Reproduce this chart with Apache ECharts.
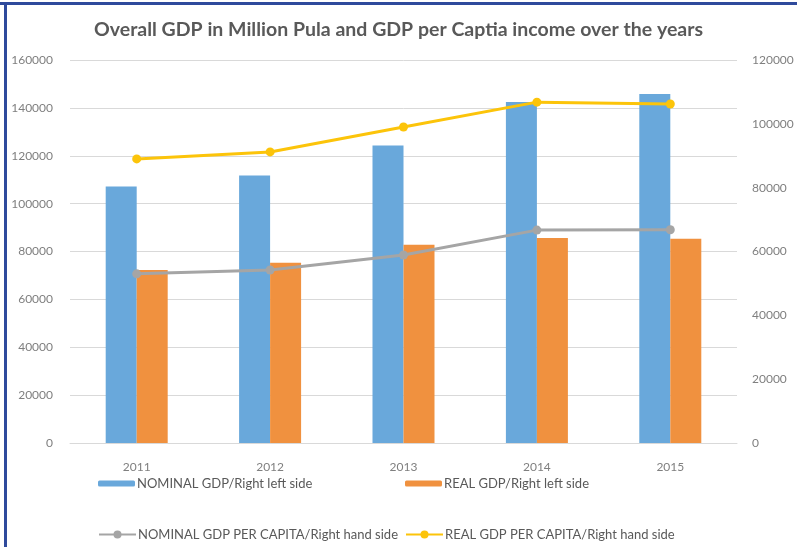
<!DOCTYPE html>
<html>
<head>
<meta charset="utf-8">
<script src="https://cdn.jsdelivr.net/npm/echarts@6/dist/echarts.min.js"></script>
<style>
  html, body { margin: 0; padding: 0; background: #fff; }
  #chart { width: 797px; height: 547px; }
</style>
</head>
<body>
<div id="chart"></div>
<script>
// data
var years = ["2011", "2012", "2013", "2014", "2015"];
var nominalGdp = [107200, 111800, 124300, 142500, 145800];
var realGdp = [72300, 75300, 82800, 85600, 85300];
var nominalPerCapita = [53000, 54200, 58900, 66700, 66800];
var realPerCapita = [89000, 91200, 99000, 106800, 106200];

var labelColor = "#7f7f7f";
var fontFam = "Lato, 'Open Sans', sans-serif";

function plainNumber(v) {
  return String(v);
}

function oneLegend(name, left, top, h) {
  return {
    data: [name],
    left: left,
    top: top,
    padding: 0,
    itemWidth: 37,
    itemHeight: h,
    textStyle: {
      fontFamily: fontFam,
      fontSize: 13,
      color: "#595959",
      padding: [0, 0, 0, -3],
    },
  };
}

var myChart = echarts.init(document.getElementById("chart"), null, { renderer: "canvas" });

var option = {
  backgroundColor: "#fff",
  animation: false,
  title: {
    text: "Overall GDP in Million Pula and GDP per Captia income over the years",
    left: "center",
    top: 15,
    textStyle: {
      fontFamily: fontFam,
      fontSize: 19.5,
      fontWeight: "bold",
      color: "#595959",
    },
  },
  graphic: [
    {
      type: "rect",
      shape: { x: 0, y: 2, width: 797, height: 3 },
      style: { fill: "#2f4a9c" },
    },
    {
      type: "rect",
      shape: { x: 4, y: 2, width: 3, height: 545 },
      style: { fill: "#2f4a9c" },
    },
  ],
  legend: [
    oneLegend("NOMINAL GDP/Right left side", 98, 477, 6),
    oneLegend("REAL GDP/Right left side", 405, 477, 6),
    oneLegend("NOMINAL GDP PER CAPITA/Right hand side", 98, 528, 10),
    oneLegend("REAL GDP PER CAPITA/Right hand side", 405, 528, 10),
  ],
  grid: {
    left: 70,
    right: 60,
    top: 60,
    bottom: 104,
    containLabel: false,
  },
  xAxis: [
    {
      type: "category",
      data: years,
      axisTick: { show: false },
      axisLine: { lineStyle: { color: "#d9d9d9" } },
      axisLabel: { fontFamily: fontFam, fontSize: 12, color: labelColor, margin: 18 },
    },
  ],
  yAxis: [
    {
      type: "value",
      min: 0,
      max: 160000,
      interval: 20000,
      axisLine: { show: false },
      axisTick: { show: false },
      splitLine: { lineStyle: { color: "#d9d9d9" } },
      axisLabel: {
        fontFamily: fontFam,
        fontSize: 12,
        color: labelColor,
        margin: 17,
        formatter: plainNumber,
      },
    },
    {
      type: "value",
      min: 0,
      max: 120000,
      interval: 20000,
      position: "right",
      axisLine: { show: false },
      axisTick: { show: false },
      splitLine: { show: false },
      axisLabel: {
        fontFamily: fontFam,
        fontSize: 12,
        color: labelColor,
        margin: 15,
        formatter: plainNumber,
      },
    },
  ],
  series: [
    {
      name: "NOMINAL GDP/Right left side",
      type: "bar",
      color: "#69a8db",
      barWidth: 31,
      barGap: "0%",
      data: nominalGdp,
    },
    {
      name: "REAL GDP/Right left side",
      type: "bar",
      color: "#f0913f",
      barWidth: 31,
      barGap: "0%",
      data: realGdp,
    },
    {
      name: "NOMINAL GDP PER CAPITA/Right hand side",
      type: "line",
      yAxisIndex: 1,
      color: "#a5a5a5",
      symbol: "circle",
      symbolSize: 9,
      lineStyle: { width: 3 },
      data: nominalPerCapita,
    },
    {
      name: "REAL GDP PER CAPITA/Right hand side",
      type: "line",
      yAxisIndex: 1,
      color: "#fcc40a",
      symbol: "circle",
      symbolSize: 9,
      lineStyle: { width: 3 },
      data: realPerCapita,
    },
  ],
};

myChart.setOption(option);
</script>
</body>
</html>
